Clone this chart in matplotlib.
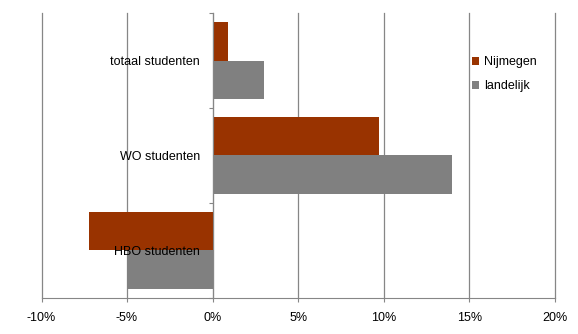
import numpy as np
from matplotlib import pyplot as plt
from matplotlib.ticker import FuncFormatter

categories = ["totaal studenten", "WO studenten", "HBO studenten"]
nijmegen = [0.9, 9.75, -7.2]
landelijk = [3.0, 14.0, -5.0]
series_names = ["Nijmegen", "landelijk"]
x_ticks = [-10, -5, 0, 5, 10, 15, 20]

plt.rcParams['font.family'] = ['Liberation Sans', 'DejaVu Sans']
plt.rcParams['font.size'] = 9

fig = plt.figure(figsize=(5.78, 3.34), dpi=100)
ax = fig.add_axes([0.0718, 0.108, 0.888, 0.853])

grey = "#868686"
y = np.arange(len(categories))
h = 0.41
ax.barh(y - h / 2, nijmegen, height=h, color="#993300", label=series_names[0], zorder=2)
ax.barh(y + h / 2, landelijk, height=h, color="#808080", label=series_names[1], zorder=2)

ax.set_xlim(-10, 20)
ax.set_ylim(2.5, -0.5)
ax.set_xticks(x_ticks)
ax.xaxis.set_major_formatter(FuncFormatter(lambda v, p: "%d%%" % v))
ax.grid(axis="x", color=grey, linewidth=0.9)
ax.xaxis.set_zorder(1)
for gl in ax.get_xgridlines():
    gl.set_clip_on(False)

for s in ["top", "right"]:
    ax.spines[s].set_visible(False)
ax.spines["left"].set_position(("data", 0))
ax.spines["left"].set_color(grey)
ax.spines["bottom"].set_color(grey)
ax.spines["left"].set_zorder(4)
ax.yaxis.set_zorder(5)

ax.set_yticks([-0.5, 0.5, 1.5, 2.5])
ax.set_yticklabels([])
ax.set_yticks(y, minor=True)
ax.set_yticklabels(categories, minor=True)
ax.tick_params(axis="y", which="major", length=3, color=grey, direction="out")
ax.tick_params(axis="y", which="minor", length=0, pad=9)
ax.tick_params(axis="x", length=3, color=grey, pad=7)

fig.legend(loc="upper left", bbox_to_anchor=(0.797, 0.865), frameon=False,
           handlelength=0.6, handleheight=0.6, handletextpad=0.4,
           labelspacing=0.95, fontsize=9)

fig.savefig("out.png", dpi=100)
